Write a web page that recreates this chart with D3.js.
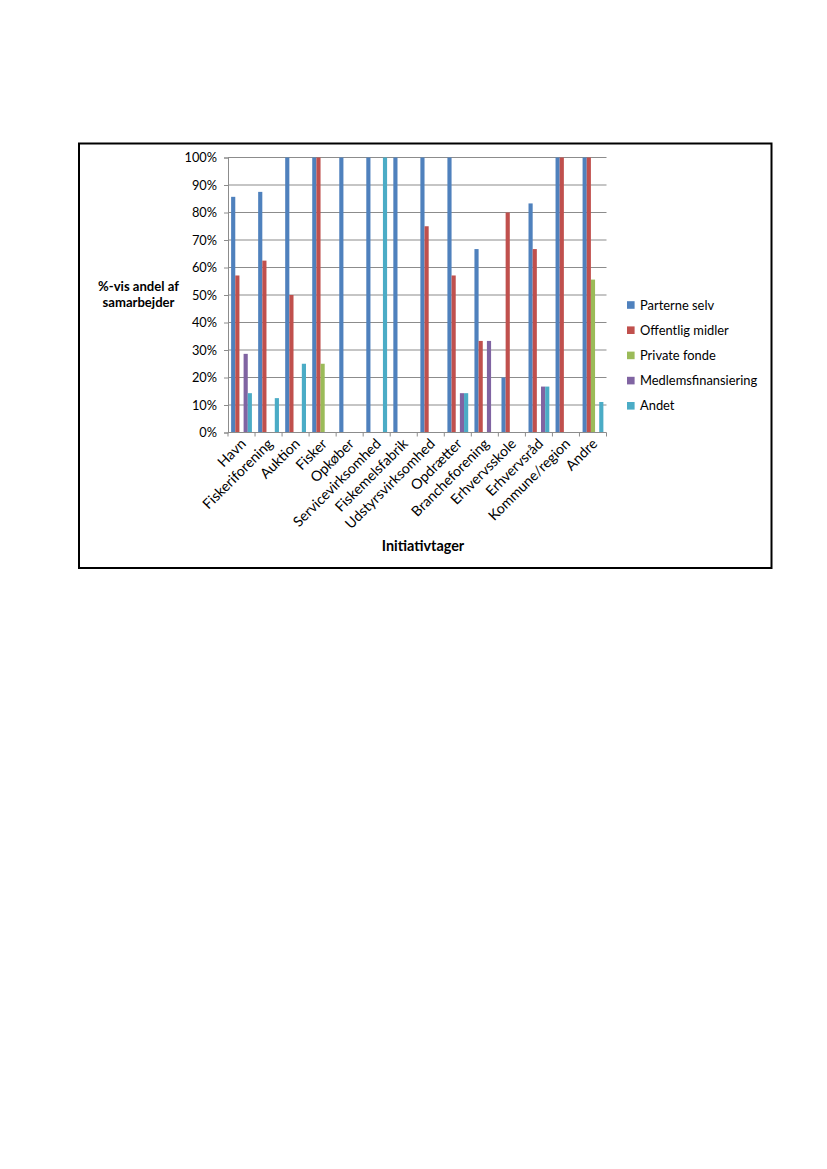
<!DOCTYPE html>
<html><head><meta charset="utf-8">
<script src="https://cdn.jsdelivr.net/npm/d3@7"></script>
<style>body{margin:0;background:#fff}svg{display:block}text{font-family:Lato,"Open Sans",sans-serif;fill:#000}</style>
</head><body><svg id="c" width="827" height="1169"></svg>
<script>
const categories = ["Havn","Fiskeriforening","Auktion","Fisker","Opkøber","Servicevirksomhed","Fiskemelsfabrik","Udstyrsvirksomhed","Opdrætter","Brancheforening","Erhvervsskole","Erhvervsråd","Kommune/region","Andre"];
const seriesNames = ["Parterne selv","Offentlig midler","Private fonde","Medlemsfinansiering","Andet"];
const parterneSelv = [85.7,87.5,100,100,100,100,100,100,100,66.7,20,83.3,100,100];
const offentligMidler = [57.1,62.5,50,100,0,0,0,75,57.1,33.3,80,66.7,100,100];
const privateFonde = [0,0,0,25,0,0,0,0,0,0,0,0,0,55.6];
const medlemsfinansiering = [28.6,0,0,0,0,0,0,0,14.3,33.3,0,16.7,0,0];
const andet = [14.3,12.5,25,0,0,100,0,0,14.3,0,0,16.7,0,11.1];
const yTicks = [0,10,20,30,40,50,60,70,80,90,100];
const colors = ["#4F81BD","#C0504D","#9BBB59","#8064A2","#4BACC6"];
const seriesValues = [parterneSelv, offentligMidler, privateFonde, medlemsfinansiering, andet];

const svg = d3.select("#c");
svg.append("rect").attr("x",79).attr("y",143.5).attr("width",692.5).attr("height",424.5)
  .attr("fill","#fff").attr("stroke","#000").attr("stroke-width",2);

const L=228, R=606.5, T=157.5, B=432.5;
const x = d3.scaleBand().domain(categories).range([L,R]).padding(0);
const xi = d3.scaleBand().domain(seriesNames).range([0,x.bandwidth()]).paddingInner(0).paddingOuter(0.75);
const y = d3.scaleLinear().domain([0,100]).range([B,T]);

// gridlines
svg.append("g").selectAll("line").data(yTicks.filter(d=>d>0)).join("line")
  .attr("x1",L).attr("x2",R).attr("y1",d=>y(d)).attr("y2",d=>y(d))
  .attr("stroke","#8c8c8c").attr("stroke-width",1.2);

// bars
seriesValues.forEach((vals,si)=>{
  svg.append("g").selectAll("rect").data(vals.map((v,i)=>({c:categories[i],v}))).join("rect")
    .attr("x",d=>x(d.c)+xi(seriesNames[si]))
    .attr("width",xi.bandwidth())
    .attr("y",d=>y(d.v)).attr("height",d=>B-y(d.v))
    .attr("fill",colors[si]);
});

// y axis
const yAxis = d3.axisLeft(y).tickValues(yTicks).tickFormat(d=>d+"%").tickSize(4).tickPadding(7);
const gy = svg.append("g").attr("transform",`translate(${L},0)`).call(yAxis);
gy.select(".domain").attr("stroke","#8c8c8c");
gy.selectAll(".tick line").attr("stroke","#8c8c8c");
gy.selectAll("text").attr("font-size",12.8).attr("fill","#000").style("font-family","Lato,'Open Sans',sans-serif");

// x axis
const gx = svg.append("g").attr("transform",`translate(0,${B})`);
gx.append("line").attr("x1",L).attr("x2",R).attr("stroke","#8c8c8c").attr("stroke-width",1.2);
const bounds = categories.map(c=>x(c)).concat([x(categories[categories.length-1])+x.bandwidth()]);
gx.selectAll("line.tk").data(bounds).join("line").attr("class","tk")
  .attr("x1",d=>d).attr("x2",d=>d).attr("y1",0).attr("y2",4).attr("stroke","#8c8c8c");
gx.selectAll("text").data(categories).join("text")
  .attr("transform",d=>`translate(${x(d)+x.bandwidth()/2+2},${9}) rotate(-45)`)
  .attr("text-anchor","end").attr("dy","0.32em").attr("font-size",14.2).text(d=>d);

// titles
const yt = svg.append("text").attr("text-anchor","middle").attr("font-size",13.1).attr("font-weight","bold");
yt.append("tspan").attr("x",138.5).attr("y",291).text("%-vis andel af");
yt.append("tspan").attr("x",138.5).attr("y",307).text("samarbejder");
svg.append("text").attr("x",423).attr("y",551).attr("text-anchor","middle").attr("font-size",14.4).attr("font-weight","bold").text("Initiativtager");

// legend
const lg = svg.append("g").selectAll("g").data(seriesNames).join("g")
  .attr("transform",(d,i)=>`translate(627,${305+i*25.2})`);
lg.append("rect").attr("x",0).attr("y",-3.8).attr("width",7.6).attr("height",7.6).attr("fill",(d,i)=>colors[i]);
lg.append("text").attr("x",13).attr("y",0).attr("dy","0.35em").attr("font-size",12.9).text(d=>d);
</script></body></html>
